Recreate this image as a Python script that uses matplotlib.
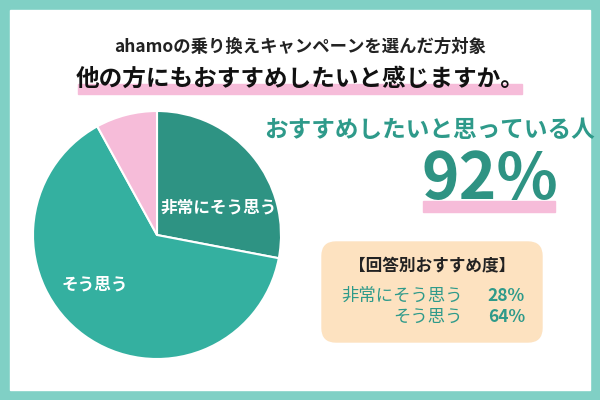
import matplotlib
matplotlib.use("Agg")
import matplotlib.pyplot as plt
from matplotlib.patches import FancyBboxPatch, Rectangle

plt.rcParams['font.family'] = ['Noto Sans CJK JP', 'DejaVu Sans']

labels = ["非常にそう思う", "そう思う", "その他"]
values = [28, 64, 8]
colors = ["#2e9383", "#34b0a0", "#f6bcd9"]

fig = plt.figure(figsize=(6, 4), dpi=100)
fig.patch.set_facecolor("#80d0c5")
bg = fig.add_axes([0, 0, 1, 1]); bg.set_xlim(0, 600); bg.set_ylim(400, 0); bg.axis('off')
bg.add_patch(Rectangle((10, 10), 580, 380, color="white"))
bg.text(300, 47, "ahamoの乗り換えキャンペーンを選んだ方対象", ha='center', va='center', fontsize=12.5, fontweight='bold', color="#222")
bg.add_patch(Rectangle((78, 84), 444, 10, color="#f6bcd9"))
bg.text(300, 79, "他の方にもおすすめしたいと感じますか。", ha='center', va='center', fontsize=17, fontweight='bold', color="#111")
bg.add_patch(Rectangle((423, 201), 132, 11, color="#f6bcd9"))
bg.text(430, 130, "おすすめしたいと思っている人", ha='center', va='center', fontsize=17, fontweight='bold', color="#2e9a8a")
bg.text(490, 180, "92%", ha='center', va='center', fontsize=46, fontweight='bold', color="#2e9383")
bg.add_patch(FancyBboxPatch((322, 242), 220, 100, boxstyle="round,pad=0,rounding_size=14", color="#fde2c0"))
bg.text(432, 265, "【回答別おすすめ度】", ha='center', va='center', fontsize=12, fontweight='bold', color="#222")
bg.text(463, 296, "非常にそう思う", ha='right', va='center', fontsize=12.5, color="#2e9a8a")
bg.text(525, 296, f"{values[0]}%", ha='right', va='center', fontsize=12.5, fontweight='bold', color="#2e9a8a")
bg.text(463, 317, "そう思う", ha='right', va='center', fontsize=12.5, color="#2e9a8a")
bg.text(525, 317, f"{values[1]}%", ha='right', va='center', fontsize=12.5, fontweight='bold', color="#2e9a8a")

ax = fig.add_axes([(157-124)/600, 1-(235+124)/400, 248/600, 248/400])
wedges, _ = ax.pie(values, colors=colors, startangle=90, counterclock=False,
                   wedgeprops=dict(edgecolor='white', linewidth=1.5))
ax.set_xlim(-1, 1); ax.set_ylim(-1, 1)
ax.text(0.5, 0.22, labels[0], ha='center', va='center', fontsize=12, color='white', fontweight='bold')
ax.text(-0.5, -0.4, labels[1], ha='center', va='center', fontsize=12, color='white', fontweight='bold')
ax.set_aspect('equal')
fig.savefig("out.png", dpi=100)
